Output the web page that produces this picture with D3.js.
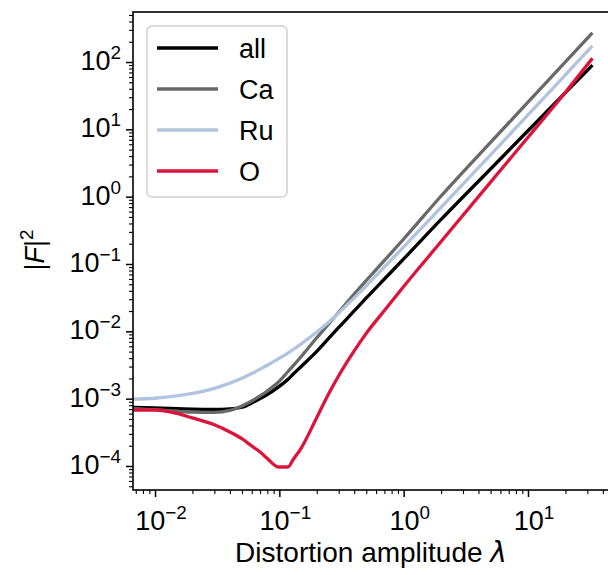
<!DOCTYPE html>
<html><head><meta charset="utf-8">
<script src="https://cdn.jsdelivr.net/npm/d3@7"></script>
<style>
body{margin:0;background:#fff}
text{font-family:"Liberation Sans", Arial, Helvetica, sans-serif;fill:#000}
</style>
</head><body>
<svg id="c" width="608" height="575"></svg>
<script>
// ---- data ----
const lambda = [0.006, 0.01, 0.015, 0.02, 0.03, 0.04, 0.05, 0.06, 0.07, 0.08,
                0.098, 0.117, 0.13, 0.15, 0.2, 0.25, 0.3, 0.4, 0.5, 0.7,
                1, 2, 5, 10, 20, 33];
const fAll = [7.45e-4, 7.27e-4, 7.10e-4, 6.98e-4, 6.91e-4, 7.03e-4, 7.45e-4, 8.63e-4, 1.007e-3, 1.151e-3,
              1.482e-3, 1.93e-3, 2.34e-3, 3.01e-3, 5.04e-3, 7.91e-3, 0.01141, 0.02006, 0.03129, 0.0599,
              0.1188, 0.4585, 2.578, 9.52, 35.05, 89.8];
const fCa  = [7.20e-4, 6.86e-4, 6.51e-4, 6.30e-4, 6.25e-4, 6.68e-4, 7.79e-4, 9.24e-4, 1.096e-3, 1.30e-3,
              1.75e-3, 2.51e-3, 3.12e-3, 4.23e-3, 8.02e-3, 0.01295, 0.01919, 0.03588, 0.0569, 0.1128,
              0.2353, 1.024, 6.41, 25.3, 100.5, 271];
const fRu  = [9.79e-4, 1.014e-3, 1.099e-3, 1.199e-3, 1.422e-3, 1.702e-3, 2.014e-3, 2.366e-3, 2.742e-3, 3.133e-3,
              3.890e-3, 4.764e-3, 5.42e-3, 6.53e-3, 9.77e-3, 0.0138, 0.01875, 0.03148, 0.04753, 0.0902,
              0.1795, 0.6934, 4.178, 16.37, 64.6, 174.2];
const fO   = [6.79e-4, 6.79e-4, 6.03e-4, 5.17e-4, 4.09e-4, 3.20e-4, 2.54e-4, 1.98e-4, 1.61e-4, 1.29e-4,
              9.67e-5, 9.67e-5, 1.27e-4, 1.85e-4, 5.26e-4, 1.189e-3, 2.188e-3, 5.13e-3, 9.33e-3, 0.02042,
              0.04634, 0.2154, 1.642, 7.62, 35.5, 113.7];
const seriesNames  = ["all", "Ca", "Ru", "O"];
const seriesValues = [fAll, fCa, fRu, fO];
const seriesColors = ["#000000", "#696969", "#b0c4de", "#dc143c"];
const xTickExps = [-2, -1, 0, 1];
const yTickExps = [-4, -3, -2, -1, 0, 1, 2];
const xDomain = [0.00665, 47.4];
const yDomain = [4.4e-5, 553];

// ---- layout ----
const svg = d3.select("#c");
const L = 133, R = 612, T = 12, B = 490;
const FS = 27;
const x = d3.scaleLog().domain(xDomain).range([L, R]);
const y = d3.scaleLog().domain(yDomain).range([B, T]);

function minorTicks(domain) {
  const out = [];
  const lo = Math.floor(Math.log10(domain[0])), hi = Math.ceil(Math.log10(domain[1]));
  for (let e = lo; e <= hi; e++) for (let k = 2; k <= 9; k++) {
    const v = k * Math.pow(10, e);
    if (v >= domain[0] && v <= domain[1]) out.push(v);
  }
  return out;
}
const xMajor = xTickExps.map(e => Math.pow(10, e));
const yMajor = yTickExps.map(e => Math.pow(10, e));

// clip
svg.append("defs").append("clipPath").attr("id", "clip")
  .append("rect").attr("x", L).attr("y", T).attr("width", R - L).attr("height", B - T);

// lines
const line = d3.line().x(d => x(d[0])).y(d => y(d[1])).curve(d3.curveMonotoneX);
const gLines = svg.append("g").attr("clip-path", "url(#clip)");
seriesValues.forEach((vals, i) => {
  gLines.append("path")
    .datum(lambda.map((l, j) => [l, vals[j]]))
    .attr("d", line)
    .attr("fill", "none")
    .attr("stroke", seriesColors[i])
    .attr("stroke-width", 3.3)
    .attr("stroke-linejoin", "round");
});

// axes
function styleAxis(g, w) {
  g.select(".domain").remove();
  g.selectAll(".tick line").attr("stroke", "#000").attr("stroke-width", w);
  g.selectAll(".tick text").remove();
}
svg.append("g").attr("transform", `translate(0,${B})`)
  .call(d3.axisBottom(x).tickValues(minorTicks(xDomain)).tickSize(4).tickFormat(""))
  .call(g => styleAxis(g, 1.1));
svg.append("g").attr("transform", `translate(0,${B})`)
  .call(d3.axisBottom(x).tickValues(xMajor).tickSize(7).tickFormat(""))
  .call(g => styleAxis(g, 1.5));
svg.append("g").attr("transform", `translate(${L},0)`)
  .call(d3.axisLeft(y).tickValues(minorTicks(yDomain)).tickSize(4).tickFormat(""))
  .call(g => styleAxis(g, 1.1));
svg.append("g").attr("transform", `translate(${L},0)`)
  .call(d3.axisLeft(y).tickValues(yMajor).tickSize(7).tickFormat(""))
  .call(g => styleAxis(g, 1.5));

// spines
svg.append("rect").attr("x", L).attr("y", T).attr("width", R - L).attr("height", B - T)
  .attr("fill", "none").attr("stroke", "#000").attr("stroke-width", 1.6);

// tick labels
function expLabel(sel, e) {
  sel.append("tspan").text("10");
  sel.append("tspan").attr("dy", -11).attr("font-size", FS * 0.7)
    .text(e < 0 ? "\u2212" + Math.abs(e) : String(e));
}
xTickExps.forEach(e => {
  const t = svg.append("text").attr("x", x(Math.pow(10, e)) + 6).attr("y", 530)
    .attr("font-size", FS).attr("text-anchor", "middle");
  expLabel(t, e);
});
yTickExps.forEach(e => {
  const t = svg.append("text").attr("x", 121).attr("y", y(Math.pow(10, e)) + 8)
    .attr("font-size", FS).attr("text-anchor", "end");
  expLabel(t, e);
});

// axis titles
const xl = svg.append("text").attr("x", 371).attr("y", 562).attr("font-size", 28).attr("text-anchor", "middle");
xl.append("tspan").text("Distortion amplitude ");
xl.append("tspan").attr("font-style", "italic").attr("font-family", "DejaVu Sans").attr("font-size", 28).text("\u03bb");

const yl = svg.append("text").attr("transform", "translate(44,250) rotate(-90)")
  .attr("font-size", FS).attr("text-anchor", "middle");
yl.append("tspan").text("|");
yl.append("tspan").attr("font-style", "italic").text("F");
yl.append("tspan").text("|");
yl.append("tspan").attr("dy", -11).attr("font-size", FS * 0.7).text("2");

// legend
const lg = svg.append("g");
lg.append("rect").attr("x", 147).attr("y", 26).attr("width", 140).attr("height", 171)
  .attr("rx", 5).attr("fill", "#fff").attr("fill-opacity", 0.8)
  .attr("stroke", "#d0d0d0").attr("stroke-width", 1.5);
seriesNames.forEach((n, i) => {
  const yy = 48 + i * 41;
  lg.append("line").attr("x1", 157).attr("x2", 218).attr("y1", yy).attr("y2", yy)
    .attr("stroke", seriesColors[i]).attr("stroke-width", 3.5);
  lg.append("text").attr("x", 239).attr("y", yy + 10).attr("font-size", FS).text(n);
});
</script>
</body></html>
